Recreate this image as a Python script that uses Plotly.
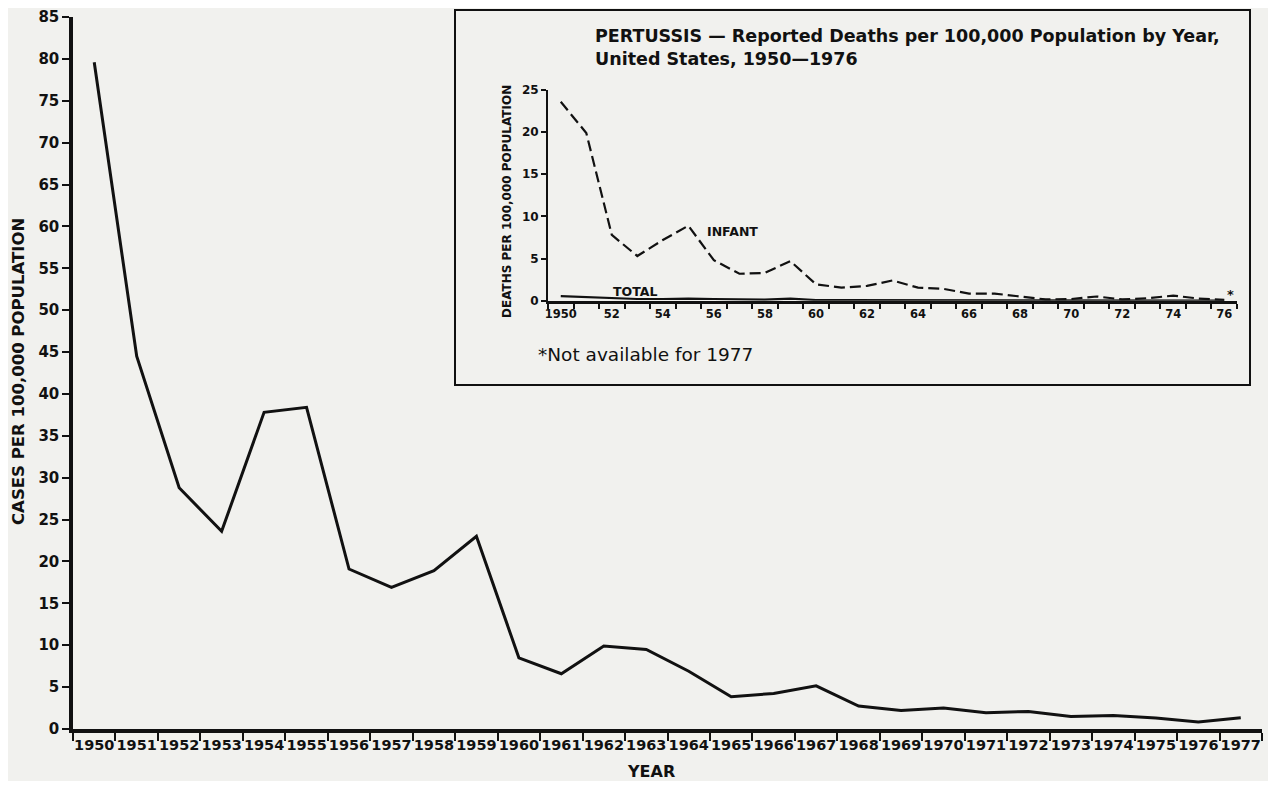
import plotly.graph_objects as go

# ---- Main chart data: Pertussis cases per 100,000 population ----
years = list(range(1950, 1978))
cases_rate = [79.6, 44.5, 28.8, 23.6, 37.8, 38.4, 19.1, 16.9, 18.9, 23.0,
              8.5, 6.6, 9.9, 9.5, 6.9, 3.85, 4.25, 5.15, 2.74, 2.2,
              2.5, 1.95, 2.1, 1.5, 1.6, 1.3, 0.83, 1.35]

# ---- Inset data: deaths per 100,000 population ----
inset_years = list(range(1950, 1977))
infant_deaths = [23.6, 19.9, 7.8, 5.3, 7.2, 8.9, 4.8, 3.2, 3.3, 4.7,
                 1.95, 1.55, 1.75, 2.4, 1.55, 1.4, 0.85, 0.85, 0.5, 0.15,
                 0.2, 0.5, 0.15, 0.3, 0.6, 0.25, 0.1]
total_deaths = [0.55, 0.45, 0.3, 0.2, 0.2, 0.25, 0.2, 0.12, 0.12, 0.25,
                0.08, 0.06, 0.06, 0.06, 0.05, 0.05, 0.04, 0.04, 0.03, 0.03,
                0.03, 0.03, 0.02, 0.02, 0.02, 0.02, 0.02]

main_ticks = list(range(0, 90, 5))
inset_label_years = list(range(1950, 1977, 2))
inset_label_text = ["1950"] + [str(y)[2:] for y in inset_label_years[1:]]

BG = "#f1f1ee"
INK = "#111111"
FONT = "DejaVu Sans"

# page-pixel helpers (figure sits at an 8px page offset)
TOP, BOTTOM, LEFT, WIDTH = 17, 729, 73, 1189
HEIGHT = BOTTOM - TOP


def px_x(px):
    return (px - LEFT) / WIDTH


def px_y(py):
    return (BOTTOM - py) / HEIGHT


fig = go.Figure()

fig.add_trace(go.Scatter(x=years, y=cases_rate, mode="lines",
                         line=dict(color=INK, width=3), showlegend=False,
                         xaxis="x", yaxis="y"))

fig.add_trace(go.Scatter(x=inset_years, y=infant_deaths, mode="lines",
                         line=dict(color=INK, width=2.2, dash="11px,5px"),
                         showlegend=False, xaxis="x2", yaxis="y2"))
fig.add_trace(go.Scatter(x=inset_years, y=total_deaths, mode="lines",
                         line=dict(color=INK, width=2.2), showlegend=False,
                         xaxis="x2", yaxis="y2"))

fig.update_layout(
    width=1260, height=773,
    margin=dict(l=65, r=6, t=TOP - 8, b=52, autoexpand=False),
    paper_bgcolor=BG, plot_bgcolor="rgba(0,0,0,0)",
    font=dict(family=FONT, color=INK),
    xaxis=dict(
        range=[1949.5, 1977.5], domain=[0, 1], automargin=False,
        tickvals=years, ticktext=[str(y) for y in years],
        ticks="", showgrid=False, zeroline=False,
        showline=True, linecolor=INK, linewidth=3.5,
        ticklabeloverflow="allow",
        tickfont=dict(family=FONT, size=14.5, weight="bold", color=INK),
        minor=dict(ticks="outside", tick0=1949.5, dtick=1, ticklen=8,
                   tickwidth=2, tickcolor=INK, showgrid=False),
    ),
    yaxis=dict(
        range=[0, 85], domain=[0, 1], automargin=False,
        tickvals=main_ticks, ticks="outside", ticklen=7, tickwidth=2,
        tickcolor=INK, showgrid=False, zeroline=False,
        showline=True, linecolor=INK, linewidth=3.5,
        ticklabeloverflow="allow",
        tickfont=dict(family=FONT, size=15, weight="bold", color=INK),
    ),
    xaxis2=dict(
        range=[1949.5, 1976.5], domain=[px_x(548), px_x(1237)], anchor="y2",
        automargin=False,
        tickvals=inset_label_years, ticktext=inset_label_text,
        ticks="", showgrid=False, zeroline=False,
        showline=True, linecolor=INK, linewidth=3,
        tickfont=dict(family=FONT, size=11.5, weight="bold", color=INK),
        minor=dict(ticks="outside", tick0=1949.5, dtick=1, ticklen=5,
                   tickwidth=1.5, tickcolor=INK, showgrid=False),
    ),
    yaxis2=dict(
        range=[0, 25], domain=[px_y(300.7), px_y(90)], anchor="x2", automargin=False,
        tickvals=[0, 5, 10, 15, 20, 25], ticks="outside", ticklen=5,
        tickwidth=1.5, tickcolor=INK, showgrid=False, zeroline=False,
        showline=True, linecolor=INK, linewidth=2,
        tickfont=dict(family=FONT, size=12, weight="bold", color=INK),
    ),
)

# inset frame
fig.add_shape(type="rect", xref="paper", yref="paper",
              x0=px_x(455), x1=px_x(1250), y0=px_y(385), y1=px_y(10),
              line=dict(color=INK, width=2), fillcolor=BG, layer="below")

annotations = [
    dict(text="CASES PER 100,000 POPULATION", xref="paper", yref="paper",
         x=px_x(18), y=px_y(372), textangle=-90, showarrow=False,
         xanchor="center", yanchor="middle",
         font=dict(family=FONT, size=16.5, weight="bold", color=INK)),
    dict(text="YEAR", xref="paper", yref="paper", x=px_x(651), y=px_y(772),
         xanchor="center", yanchor="middle", showarrow=False,
         font=dict(family=FONT, size=16, weight="bold", color=INK)),
    dict(text="PERTUSSIS — Reported Deaths per 100,000 Population by Year,<br>United States, 1950—1976",
         xref="paper", yref="paper", x=px_x(593), y=px_y(24), xanchor="left", yanchor="top",
         align="left", showarrow=False,
         font=dict(family=FONT, size=17.5, weight="bold", color=INK)),
    dict(text="DEATHS PER 100,000 POPULATION", xref="paper", yref="paper",
         x=px_x(507), y=px_y(202), textangle=-90, showarrow=False,
         xanchor="center", yanchor="middle",
         font=dict(family=FONT, size=12, weight="bold", color=INK)),
    dict(text="INFANT", xref="x2", yref="y2", x=1955.65, y=8.2, xanchor="left",
         yanchor="middle",
         showarrow=False, font=dict(family=FONT, size=12.5, weight="bold", color=INK)),
    dict(text="TOTAL", xref="x2", yref="y2", x=1951.95, y=1.15, xanchor="left",
         yanchor="middle",
         showarrow=False, font=dict(family=FONT, size=12.5, weight="bold", color=INK)),
    dict(text="*", xref="x2", yref="y2", x=1976.25, y=0.7, showarrow=False,
         xanchor="center", yanchor="middle",
         font=dict(family=FONT, size=13, weight="bold", color=INK)),
    dict(text="*Not available for 1977", xref="paper", yref="paper",
         x=px_x(536), y=px_y(354), xanchor="left", yanchor="middle",
         showarrow=False, font=dict(family=FONT, size=18.5, color=INK)),
]
fig.update_layout(annotations=annotations)

fig.write_html("out.html")
